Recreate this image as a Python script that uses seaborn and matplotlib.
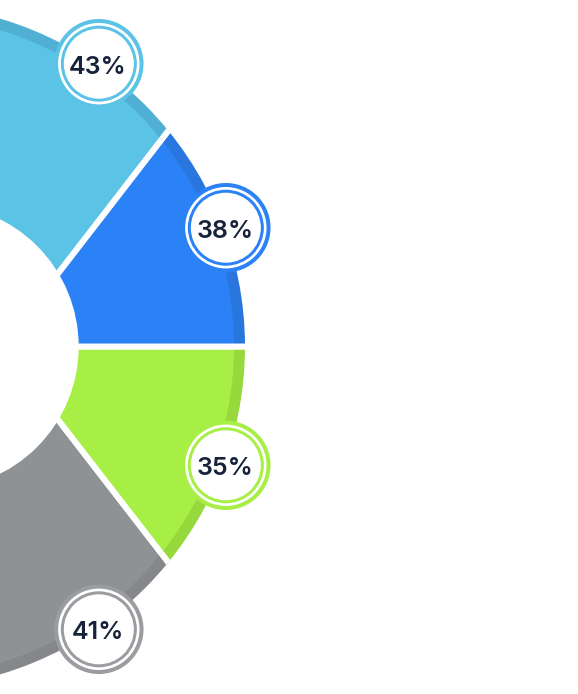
import numpy as np
import matplotlib
matplotlib.use("Agg")
import matplotlib.pyplot as plt
import seaborn as sns
from matplotlib.patches import Circle

# segments from top to bottom
labels = ["43%", "38%", "35%", "41%"]
values = [43, 38, 35, 41]
main_colors = ["#5BC3E6", "#2B82F6", "#A7EE45", "#8F9295"]
rim_colors = ["#50AFD2", "#2A76DF", "#97D83D", "#85878B"]
badge_colors = ["#5BC3E6", "#2B82F6", "#A7EE45", "#9A9C9F"]
segment_span = [52.3, 52.3, 52.3, 52.3]      # degrees, seen from the hub
badge_angle = [55.3, 20.2, -20.2, -55.3]     # degrees, seen from the ring centre

sns.set_style("white")
plt.rcParams["font.family"] = ["Inter", "DejaVu Sans"]

W, H = 578, 694
hub = (1.5, 347.5)          # where the cut lines meet
ring_c = (-97.0, 347.5)     # outer circle
hole_c = (-63.6, 347.5)     # inner circle
R_out, rim, R_hole = 342, 11, 141.6

fig = plt.figure(figsize=(W / 100, H / 100), dpi=100)
ax = fig.add_axes([0, 0, 1, 1])

# pie goes counter-clockwise from the bottom segment
sizes = segment_span[::-1] + [360 - sum(segment_span)]
start = -(segment_span[2] + segment_span[3])


def draw_layer(colors, radius):
    wedges, _ = ax.pie(sizes, colors=colors[::-1] + ["white"], startangle=start,
                       center=hub, radius=500,
                       wedgeprops=dict(edgecolor="white", linewidth=4.3))
    clip = Circle(ring_c, radius, transform=ax.transData)
    for w in wedges:
        w.set_clip_on(True)
        w.set_clip_path(clip)


draw_layer(rim_colors, R_out)
draw_layer(main_colors, R_out - rim)
ax.add_patch(Circle(hole_c, R_hole, color="white", zorder=3))

# percentage badges
for lab, col, ang in zip(labels, badge_colors, badge_angle):
    a = np.deg2rad(ang)
    x = ring_c[0] + 344 * np.cos(a)
    y = ring_c[1] + 344 * np.sin(a)
    for r, c in [(44, col), (40, "white"), (37.3, col), (34.3, "white")]:
        ax.add_patch(Circle((x, y), r, color=c, zorder=4))
    ax.text(x - 1, y - 1, lab, ha="center", va="center_baseline", fontsize=18,
            fontweight="semibold", color="#16213A", zorder=5)

ax.set_xlim(0, W)
ax.set_ylim(0, H)
ax.set_aspect("equal")
ax.axis("off")

fig.savefig("out.png", dpi=100, facecolor="white")
